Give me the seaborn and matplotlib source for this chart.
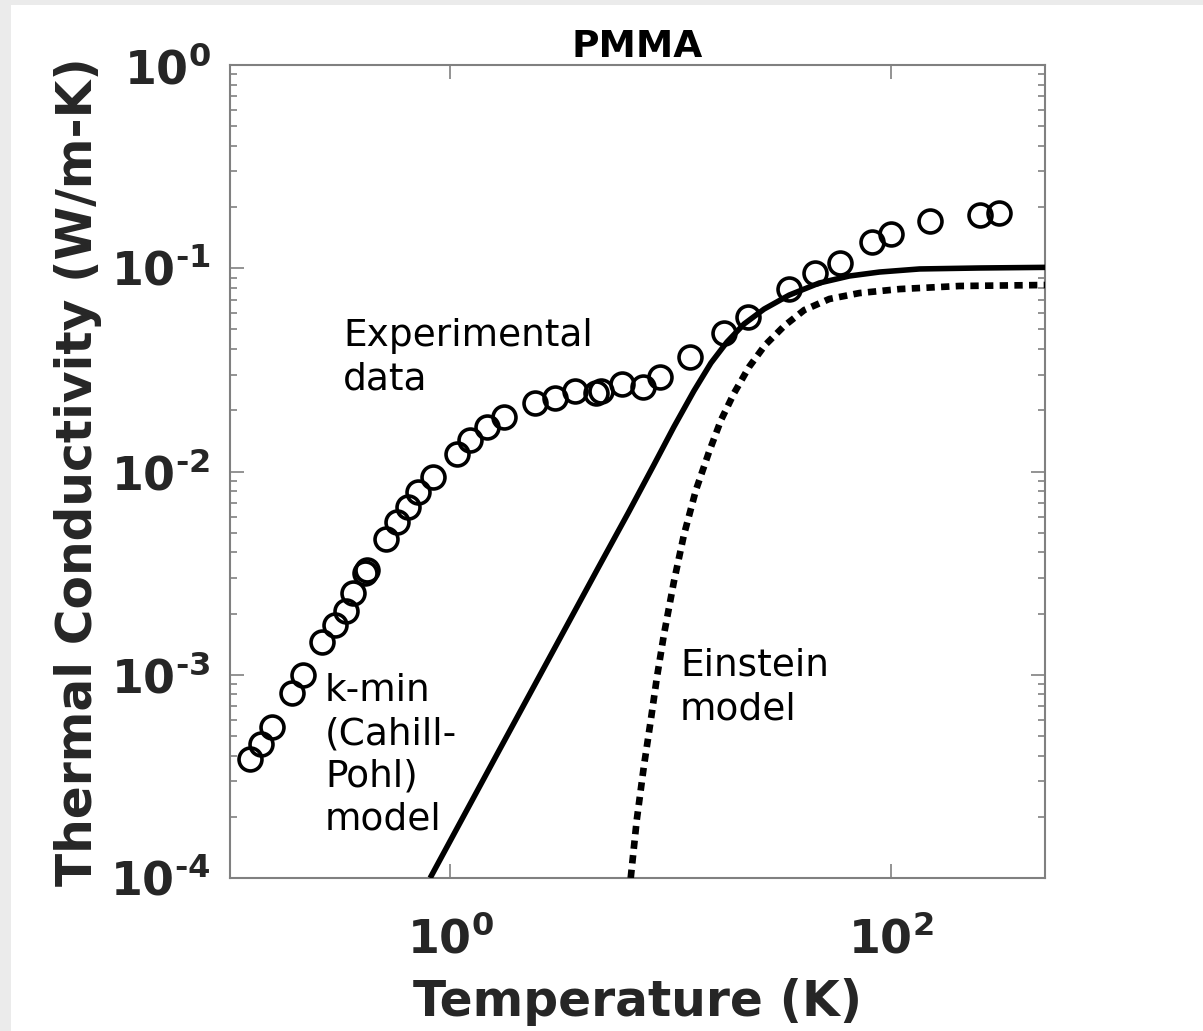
import numpy as np
import pandas as pd
import matplotlib
matplotlib.use("Agg")
import matplotlib.pyplot as plt
from matplotlib.patches import Rectangle
from matplotlib.ticker import LogLocator, NullLocator, NullFormatter, FixedLocator
import seaborn as sns

# Measured thermal conductivity of PMMA
temp_exp = [0.123, 0.139, 0.155, 0.191, 0.214, 0.261, 0.299, 0.336, 0.361, 0.410,
            0.419, 0.511, 0.574, 0.644, 0.715, 0.837, 1.076, 1.233, 1.475, 1.762,
            2.439, 3.008, 3.672, 4.577, 4.824, 6.012, 7.494, 8.959, 12.27, 17.52,
            22.55, 34.66, 45.53, 59.19, 82.8, 100.0, 150.5, 254.4, 310.5]
k_exp = [3.85e-4, 4.56e-4, 5.53e-4, 8.13e-4, 9.97e-4, 1.45e-3, 1.76e-3, 2.06e-3, 2.53e-3, 3.17e-3,
         3.28e-3, 4.65e-3, 5.65e-3, 6.69e-3, 7.92e-3, 9.40e-3, 0.0122, 0.0143, 0.0166, 0.0185,
         0.0217, 0.0230, 0.0249, 0.0243, 0.0249, 0.0270, 0.0261, 0.0292, 0.0366, 0.0480,
         0.0575, 0.0790, 0.0948, 0.1061, 0.1346, 0.1474, 0.1708, 0.1828, 0.1870]

# Minimum thermal conductivity (Cahill-Pohl) model
temp_kmin = [0.811, 1.654, 3.105, 4.724, 6.47, 8.41, 10.37, 12.79, 15.29, 18.09,
             21.62, 26.67, 34.66, 47.48, 65.05, 89.1, 135.5, 254.4, 503.0]
k_kmin = [1.0e-4, 4.17e-4, 1.466e-3, 3.39e-3, 6.32e-3, 0.01076, 0.01656, 0.0249, 0.0342, 0.0434,
          0.0532, 0.0630, 0.0738, 0.0846, 0.0916, 0.0958, 0.0992, 0.1003, 0.1010]

# Einstein model
temp_ein = [6.607, 7.037, 7.574, 8.152, 8.680, 9.342, 10.37, 11.52, 13.07, 14.98,
            16.99, 19.47, 22.78, 26.95, 32.89, 40.57, 52.74, 72.24, 109.9, 206.2, 503.0]
k_ein = [1.0e-4, 1.93e-4, 3.52e-4, 5.99e-4, 9.64e-4, 1.569e-3, 2.86e-3, 4.87e-3, 8.11e-3, 0.01247,
         0.01792, 0.0243, 0.0327, 0.0419, 0.0520, 0.0623, 0.0706, 0.0755, 0.0790, 0.0818, 0.0827]

x_ticks = [1, 100]
x_ticklabels = [r"$\mathregular{10^{0}}$", r"$\mathregular{10^{2}}$"]
y_ticks = [1e-4, 1e-3, 1e-2, 1e-1, 1e0]
y_ticklabels = [r"$\mathregular{10^{‐4}}$", r"$\mathregular{10^{‐3}}$",
                r"$\mathregular{10^{‐2}}$", r"$\mathregular{10^{‐1}}$",
                r"$\mathregular{10^{0}}$"]

sns.set_theme(style="white")
plt.rcParams["font.family"] = ["DejaVu Sans"]

W, H = 1203, 1031
fig = plt.figure(figsize=(W / 100, H / 100), dpi=100, facecolor="white")

# light grey margins along the top and left edges
fig.patches.append(Rectangle((0, 1 - 5 / H), 1, 5 / H, transform=fig.transFigure,
                             facecolor="#ebebeb", edgecolor="none", zorder=0))
fig.patches.append(Rectangle((0, 0), 11 / W, 1, transform=fig.transFigure,
                             facecolor="#ebebeb", edgecolor="none", zorder=0))

L, R, B, T = 230, 1045, 878, 65
ax = fig.add_axes([L / W, 1 - B / H, (R - L) / W, (B - T) / H])
ax.set_facecolor("white")

exp_df = pd.DataFrame({"T": temp_exp, "k": k_exp})
kmin_df = pd.DataFrame({"T": temp_kmin, "k": k_kmin})
ein_df = pd.DataFrame({"T": temp_ein, "k": k_ein})

sns.lineplot(data=kmin_df, x="T", y="k", ax=ax, color="black", lw=4.0,
             solid_capstyle="butt", zorder=3)
sns.lineplot(data=ein_df, x="T", y="k", ax=ax, color="black", lw=4.8, zorder=3)
ein_line = ax.lines[-1]
ein_line.set_linestyle((0, (1.25, 0.95)))
ein_line.set_dash_capstyle("butt")
ax.plot(exp_df["T"], exp_df["k"], linestyle="none", marker="o", ms=16.5,
        mfc="none", mec="black", mew=2.6, zorder=4)

ax.set_xscale("log")
ax.set_yscale("log")
ax.set_xlim(0.1, 503)
ax.set_ylim(1e-4, 1e0)

ax.xaxis.set_major_locator(FixedLocator(x_ticks))
ax.xaxis.set_minor_locator(NullLocator())
ax.set_xticklabels(x_ticklabels)
ax.yaxis.set_major_locator(FixedLocator(y_ticks))
ax.yaxis.set_minor_locator(LogLocator(base=10, subs=np.arange(2, 10), numticks=20))
ax.yaxis.set_minor_formatter(NullFormatter())
ax.set_yticklabels(y_ticklabels)

axis_grey = "#808080"
for sp in ax.spines.values():
    sp.set_visible(True)
    sp.set_color(axis_grey)
    sp.set_linewidth(1.5)
ax.tick_params(which="both", direction="in", left=True, bottom=True, top=True, right=True,
               color=axis_grey, width=1.2)
ax.tick_params(which="major", length=10, labelsize=33, labelcolor="#262626")
ax.tick_params(axis="x", which="major", pad=28)
ax.tick_params(axis="y", which="major", pad=14)
ax.tick_params(which="minor", length=5)
for lbl in ax.get_xticklabels() + ax.get_yticklabels():
    lbl.set_fontweight("bold")

ax.set_xlabel("Temperature (K)", fontsize=35, fontweight="bold", color="#262626", labelpad=11)
ax.set_ylabel("Thermal Conductivity (W/m-K)", fontsize=35, fontweight="bold",
              color="#262626", labelpad=6)
ax.set_title("PMMA", fontsize=27, fontweight="bold", color="black", pad=6)

def frac(px, py):
    return (px - L) / (R - L), (B - py) / (B - T)

txt_kw = dict(transform=ax.transAxes, ha="left", va="top", fontsize=27,
              color="black", linespacing=1.25)
ax.text(*frac(343, 318), "Experimental\ndata", **txt_kw)
ax.text(*frac(325, 673), "k-min\n(Cahill-\nPohl)\nmodel", **txt_kw)
ax.text(*frac(680, 648), "Einstein\nmodel", **txt_kw)

fig.savefig("out.png", dpi=100, facecolor=fig.get_facecolor())
